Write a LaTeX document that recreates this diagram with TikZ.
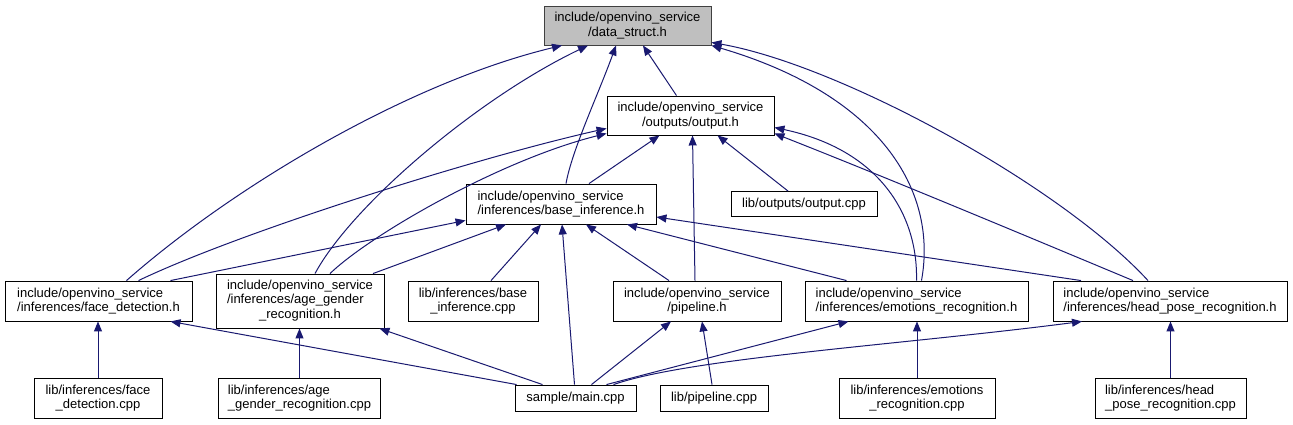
\documentclass[tikz,border=0pt]{standalone}
\usepackage{fontspec}
\setmainfont{Liberation Sans}
\usetikzlibrary{arrows.meta}
\definecolor{edgeblue}{HTML}{191970}
\definecolor{rootfill}{HTML}{BFBFBF}
\definecolor{rootline}{HTML}{404040}
\begin{document}
\begin{tikzpicture}[x=1pt,y=-1pt,
  box/.style={draw=black, line width=0.9pt, fill=white, inner sep=0pt,
    font=\fontsize{13}{14.5}\selectfont, text=black},
  rootbox/.style={box, draw=rootline, fill=rootfill},
  edge/.style={draw=edgeblue, line width=1pt, -{Triangle[length=10pt,width=8pt]}}]
\useasboundingbox (0,0) rectangle (1293,424);
\fill[white] (0,0) rectangle (1293,424);

% nodes
\node[rootbox, minimum width=167pt, minimum height=39pt, align=center] (ds) at (627.5,25.5) {include/openvino\_service\\/data\_struct.h};
\node[box, minimum width=167pt, minimum height=39pt, align=center] (out) at (690.5,115.5) {include/openvino\_service\\/outputs/output.h};
\node[box, minimum width=190pt, minimum height=40pt, align=left] (base) at (561,204) {include/openvino\_service\\/inferences/base\_inference.h};
\node[box, minimum width=146pt, minimum height=25pt] (ocpp) at (804,204) {lib/outputs/output.cpp};
\node[box, minimum width=187pt, minimum height=40pt, align=left] (fd) at (98.5,301) {include/openvino\_service\\/inferences/face\_detection.h};
\node[box, minimum width=168pt, minimum height=54pt] (ag) at (300,301) {\begin{tabular}{@{}l@{}}include/openvino\_service\\/inferences/age\_gender\\\multicolumn{1}{@{}c@{}}{\_recognition.h}\end{tabular}};
\node[box, minimum width=130pt, minimum height=40pt, align=center] (bcpp) at (473,301) {lib/inferences/base\\\_inference.cpp};
\node[box, minimum width=168pt, minimum height=40pt, align=center] (pipe) at (697,301) {include/openvino\_service\\/pipeline.h};
\node[box, minimum width=223pt, minimum height=40pt, align=left] (emo) at (916.5,301) {include/openvino\_service\\/inferences/emotions\_recognition.h};
\node[box, minimum width=234pt, minimum height=40pt, align=left] (hp) at (1170,301) {include/openvino\_service\\/inferences/head\_pose\_recognition.h};
\node[box, minimum width=128pt, minimum height=40pt, align=center] (fdcpp) at (98,398) {lib/inferences/face\\\_detection.cpp};
\node[box, minimum width=162pt, minimum height=40pt, align=left] (agcpp) at (299.5,398) {lib/inferences/age\\\_gender\_recognition.cpp};
\node[box, minimum width=121pt, minimum height=26pt] (main) at (575.5,398) {sample/main.cpp};
\node[box, minimum width=108pt, minimum height=26pt] (pcpp) at (714,398) {lib/pipeline.cpp};
\node[box, minimum width=156pt, minimum height=40pt, align=center] (ecpp) at (917,398) {lib/inferences/emotions\\\_recognition.cpp};
\node[box, minimum width=151pt, minimum height=40pt, align=left] (hcpp) at (1170.5,398) {lib/inferences/head\\\_pose\_recognition.cpp};

% edges into data_struct.h
\draw[edge] ([xshift=28pt]fd.north) .. controls (235,185) and (410,82) .. ([xshift=-65.5pt]ds.south);
\draw[edge] ([xshift=15pt]ag.north) .. controls (352,205) and (478,98) .. ([xshift=-39.5pt]ds.south);
\draw[edge] ([xshift=5pt]base.north) .. controls (572,150) and (598,95) .. ([xshift=-11.5pt]ds.south);
\draw[edge] ([xshift=-14pt]out.north) -- ([xshift=15.5pt]ds.south);
\draw[edge] ([xshift=5pt]emo.north) .. controls (938,190) and (880,95) .. (ds.south east);
\draw[edge] ([xshift=-22pt]hp.north) .. controls (1060,185) and (840,65) .. ([yshift=3pt]ds.south east);

% edges into output.h
\draw[edge] ([xshift=-16pt]ocpp.north) -- ([xshift=27pt]out.south);
\draw[edge] ([xshift=-2pt]pipe.north) -- ([xshift=2pt]out.south);
\draw[edge] ([xshift=28pt]base.north) -- ([xshift=-31pt]out.south);
\draw[edge] ([xshift=40pt]fd.north) .. controls (240,232) and (475,158) .. ([yshift=7pt]out.south west);
\draw[edge] ([xshift=30pt]ag.north) .. controls (370,235) and (500,160) .. ([yshift=2pt]out.south west);
\draw[edge] (emo.north) .. controls (918,215) and (880,150) .. ([yshift=-12pt]out.east);
\draw[edge] ([xshift=-37pt]hp.north) .. controls (1000,225) and (880,175) .. ([yshift=2pt]out.south east);

% edges into base_inference.h
\draw[edge] ([xshift=72pt]fd.north) -- ([yshift=4pt]base.south west);
\draw[edge] ([xshift=73pt]ag.north) -- ([xshift=-55pt]base.south);
\draw[edge] ([xshift=18pt]bcpp.north) -- ([xshift=-20pt]base.south);
\draw[edge] ([xshift=-1pt]main.north) -- ([xshift=1pt]base.south);
\draw[edge] ([xshift=-28pt]pipe.north) -- ([xshift=25pt]base.south);
\draw[edge] ([xshift=-70pt]emo.north) -- ([xshift=66pt]base.south);
\draw[edge] ([xshift=-89pt]hp.north) -- ([yshift=-13pt]base.east);

% lower edges
\draw[edge] ([xshift=2pt]main.north west) -- ([xshift=72pt]fd.south);
\draw[edge] ([xshift=-33pt]main.north) -- ([xshift=-5pt]ag.south east);
\draw[edge] (fdcpp.north) -- (fdcpp.north |- fd.south);
\draw[edge] (agcpp.north) -- (agcpp.north |- ag.south);
\draw[edge] ([xshift=-2pt]pcpp.north) -- ([xshift=5pt]pipe.south);
\draw[edge] ([xshift=16pt]main.north) -- ([xshift=-26pt]pipe.south);
\draw[edge] ([xshift=31pt]main.north) -- ([xshift=-68pt]emo.south);
\draw[edge] ([xshift=38pt]main.north) .. controls (690,358) and (900,345) .. ([xshift=-88pt]hp.south);
\draw[edge] (ecpp.north) -- (ecpp.north |- emo.south);
\draw[edge] (hcpp.north) -- (hcpp.north |- hp.south);
\end{tikzpicture}
\end{document}
